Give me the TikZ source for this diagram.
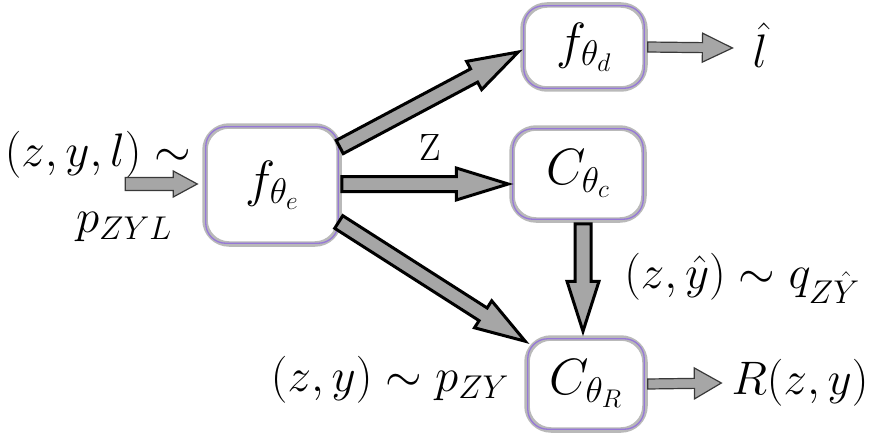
\RequirePackage{fix-cm}
\documentclass[tikz,border=0pt]{standalone}
\usetikzlibrary{calc}
\definecolor{glow}{RGB}{150,120,215}
\newcommand\fatarrow[6][]{%
  \path let \p1=($#3-#2$) in \pgfextra{%
    \pgfmathsetmacro\faang{atan2(\y1,\x1)}\xdef\faang{\faang}%
    \pgfmathsetmacro\falen{veclen(\x1,\y1)}\xdef\falen{\falen}};
  \draw[#1, shift={#2}, rotate=\faang]
    (0pt,-#4pt) -- ({\falen pt-#6pt},-#4pt) -- ({\falen pt-#6pt},-#5pt)
    -- (\falen pt,0pt) -- ({\falen pt-#6pt},#5pt) -- ({\falen pt-#6pt},#4pt)
    -- (0pt,#4pt) -- cycle;
}
\begin{document}
\begin{tikzpicture}[x=1pt,y=-1pt,
  font=\fontsize{47}{52}\selectfont,
  box/.style={draw=gray!55, line width=5.5pt, fill=white, rounded corners=24pt, inner sep=0pt,
    font=\fontsize{51}{56}\selectfont},
  lbl/.style={inner sep=0pt},
  bigarrow/.style={draw=black, line width=3pt, fill=gray!70, line join=miter},
  smallarrow/.style={draw=gray!45!black, line width=1.2pt, fill=gray!70, line join=miter}]
\useasboundingbox (0,0) rectangle (871,436);

\node[box, minimum width=134pt, minimum height=118pt] (fe) at (272,185) {$f_{\theta_e}$};
\node[box, minimum width=122pt, minimum height=84pt] (fd) at (584,47) {$f_{\theta_d}$};
\node[box, minimum width=132pt, minimum height=92pt] (cc) at (578,174) {$C_{\theta_c}$};
\node[box, minimum width=118pt, minimum height=92pt] (cr) at (586,384) {$C_{\theta_R}$};
\foreach \n in {fe,fd,cc,cr}
  \draw[glow, line width=1.3pt, rounded corners=20pt]
    ($(\n.south west)+(3.5,-3.5)$) rectangle ($(\n.north east)+(-3.5,3.5)$);

\node[lbl] (lab1) at (98,155) {$(z,y,l)\sim$};
\node[lbl] (lab2) at (124,227) {$p_{ZYL}$};
\node[lbl] (zl) at (430,148) {\fontsize{38}{40}\selectfont Z};
\node[lbl] (lq) at (742,278) {$(z,\hat y)\sim q_{Z\hat Y}$};
\node[lbl] (lp) at (390,380) {$(z,y)\sim p_{ZY}$};
\node[lbl] (lhat) at (760,45) {$\hat l$};
\node[lbl] (rz) at (800,383) {$R(z,y)$};

\coordinate (s1) at ($(fe.east)+(-2,-38)$);
\coordinate (e1) at ($(fd.west)+(-2,5)$);
\coordinate (s2) at ($(fe.east)+(0,-1)$);
\coordinate (e2) at ($(cc.west)+(-1,10)$);
\coordinate (s3) at ($(fe.east)+(-3,37)$);
\coordinate (e3) at ($(cr.north west)+(1,6)$);
\coordinate (s4) at ($(cc.south)+(5,1)$);
\coordinate (e4) at ($(cr.north)+(-3,-4)$);
\coordinate (e4x) at (s4 |- e4);
\coordinate (s0) at ($(fe.west)+(-77,-1)$);
\coordinate (e0) at ($(fe.west)+(-5,-1)$);
\coordinate (e5) at ($(lhat.west)+(-20,3)$);
\coordinate (e6) at ($(rz.west)+(-10,0)$);

\fatarrow[bigarrow]{(s1)}{(e1)}{7.5}{16}{50}
\fatarrow[bigarrow]{(s2)}{(e2)}{7.5}{16}{52}
\fatarrow[bigarrow]{(s3)}{(e3)}{7.5}{16}{50}
\fatarrow[bigarrow]{(s4)}{(e4x)}{8}{16}{50}
\fatarrow[smallarrow]{(s0)}{(e0)}{6.5}{13}{24}
\fatarrow[smallarrow]{(fd.east)}{(e5)}{5}{14.5}{30}
\fatarrow[smallarrow]{(cr.east)}{(e6)}{5}{15.5}{27}
\end{tikzpicture}
\end{document}
